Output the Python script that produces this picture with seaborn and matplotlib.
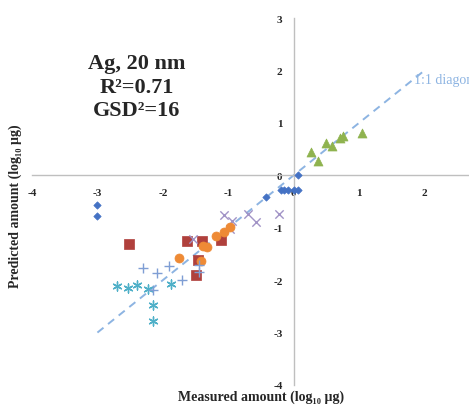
import matplotlib
matplotlib.use("Agg")
import matplotlib.pyplot as plt
import seaborn as sns
import pandas as pd

# Measured vs predicted amounts (log10 µg), one list pair per study group
diamond_x = [-3.0, -3.0, -0.43, -0.20, -0.15, -0.09, 0.0, 0.06, 0.06]
diamond_y = [-0.57, -0.77, -0.42, -0.28, -0.28, -0.28, -0.28, -0.28, 0.0]

square_x = [-2.52, -1.63, -1.40, -1.11, -1.47, -1.50]
square_y = [-1.31, -1.26, -1.26, -1.23, -1.61, -1.91]

triangle_x = [0.27, 0.37, 0.50, 0.59, 0.71, 0.75, 1.05]
triangle_y = [0.45, 0.27, 0.61, 0.55, 0.71, 0.75, 0.80]

cross_x = [-1.54, -1.06, -0.94, -0.97, -0.70, -0.57, -0.22]
cross_y = [-1.22, -0.76, -0.87, -1.03, -0.73, -0.89, -0.73]

asterisk_x = [-2.70, -2.53, -2.40, -2.22, -1.88, -2.15, -2.15]
asterisk_y = [-2.11, -2.15, -2.10, -2.17, -2.07, -2.47, -2.77]

circle_x = [-1.76, -1.41, -1.38, -1.32, -1.19, -1.06, -0.97]
circle_y = [-1.58, -1.64, -1.34, -1.37, -1.16, -1.08, -0.98]

plus_x = [-2.30, -2.09, -1.91, -1.70, -1.44, -1.44, -2.15]
plus_y = [-1.76, -1.87, -1.73, -1.99, -1.72, -1.85, -2.19]

diag_x = [-3, 2]
x_ticks = [-4, -3, -2, -1, 0, 1, 2]
y_ticks = [-4, -3, -2, -1, 0, 1, 2, 3]

sns.set_style("white")
plt.rcParams["font.family"] = ["Liberation Serif", "DejaVu Serif"]

fig = plt.figure(figsize=(4.69, 4.06), dpi=100)
W, H = 469, 406
ax = fig.add_axes([32 / W, 20 / H, (W - 32) / W, (386 - 19) / H])
ax.set_xlim(-4, 2.68)
ax.set_ylim(-4, 3)

# 1:1 reference line
sns.lineplot(x=diag_x, y=diag_x, ax=ax, color="#8DB4E2", lw=1.4,
             linestyle=(0, (4, 3)), zorder=1)
ax.text(1.84, 1.83, "1:1 diagonal", color="#8DB4E2", fontsize=10,
        ha="left", va="center", clip_on=False)

groups = [
    (diamond_x, diamond_y, "D", "#4472C4", 14, 0.5),
    (square_x, square_y, "s", "#B0403C", 42, 0.5),
    (triangle_x, triangle_y, "^", "#8FB34F", 42, 0.5),
    (cross_x, cross_y, "x", "#A193C6", 36, 1.0),
    (asterisk_x, asterisk_y, (6, 2, 0), "#4FB0C8", 42, 1.0),
    (circle_x, circle_y, "o", "#EE8A35", 42, 0.5),
    (plus_x, plus_y, "+", "#7F9ED4", 42, 1.0),
]
for gx, gy, mk, col, sz, lw in groups:
    df = pd.DataFrame({"x": gx, "y": gy})
    sns.scatterplot(data=df, x="x", y="y", marker=mk, color=col, s=sz,
                    edgecolor=col, linewidth=lw, ax=ax, zorder=3)

# Axes crossing at the origin
for side in ["top", "right"]:
    ax.spines[side].set_visible(False)
ax.spines["left"].set_position(("data", 0))
ax.spines["bottom"].set_position(("data", 0))
for side in ["left", "bottom"]:
    ax.spines[side].set_color("#BFBFBF")
    ax.spines[side].set_linewidth(1.0)
ax.spines["bottom"].set_bounds(-4, 2.68)

ax.set_xticks(x_ticks)
ax.set_yticks(y_ticks)
ax.set_xticklabels([str(t) for t in x_ticks])
ax.set_yticklabels([str(t) for t in y_ticks])
ax.tick_params(axis="x", direction="in", length=4, color="#BFBFBF", pad=9,
               labelsize=8)
ax.tick_params(axis="y", direction="out", length=5, color="#BFBFBF", pad=3,
               labelsize=8)
for lab in ax.get_xticklabels() + ax.get_yticklabels():
    lab.set_fontweight("bold")
ax.set_xlabel("")
ax.set_ylabel("")

fig.text(261 / W, 1 - 397 / H, "Measured amount (log\u2081\u2080 \u00b5g)",
         ha="center", va="center", fontsize=10, fontweight="bold")
fig.text(15 / W, 1 - 206 / H, "Predicted amount (log\u2081\u2080 \u00b5g)",
         ha="center", va="center", rotation=90, fontsize=10,
         fontweight="bold")

ax.text(-2.4, 1.69, "Ag, 20 nm\nR\u00b2=0.71\nGSD\u00b2=16", ha="center",
        va="center", fontsize=16, fontweight="bold", linespacing=1.25)

fig.savefig("out.png", dpi=100)
